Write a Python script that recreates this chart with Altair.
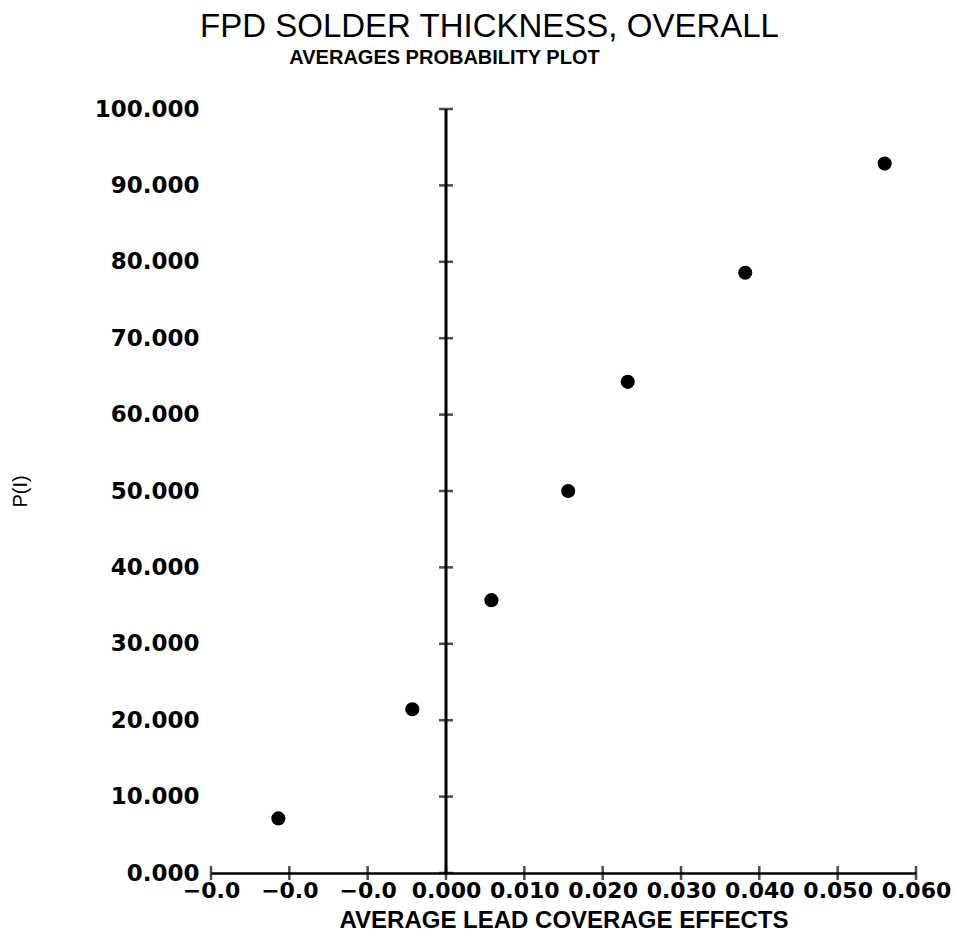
import altair as alt
import pandas as pd

# ---- data ----
effects = [-0.0214, -0.0043, 0.0058, 0.0156, 0.0232, 0.0382, 0.0560]
p_i = [7.143, 21.429, 35.714, 50.0, 64.286, 78.571, 92.857]
x_ticks = [-0.03, -0.02, -0.01, 0.0, 0.01, 0.02, 0.03, 0.04, 0.05, 0.06]
y_ticks = [0, 10, 20, 30, 40, 50, 60, 70, 80, 90, 100]

pts = pd.DataFrame({"effect": effects, "p": p_i})
xt = pd.DataFrame({"x": x_ticks, "y": [0] * len(x_ticks)})
yt = pd.DataFrame({"x": [0.0] * len(y_ticks), "y": y_ticks})
vline = pd.DataFrame({"x": [0.0], "y": [y_ticks[0]], "y2": [y_ticks[-1]]})

xscale = alt.Scale(domain=[x_ticks[0], x_ticks[-1]], nice=False, zero=False)
yscale = alt.Scale(domain=[y_ticks[0], y_ticks[-1]], nice=False)

x_axis = alt.Axis(
    values=x_ticks,
    labelExpr="datum.value < -0.000001 ? '\u22120.0' : format(datum.value, '.3f')",
    title="AVERAGE LEAD COVERAGE EFFECTS",
    domain=True, domainColor="black", domainWidth=2.5,
    ticks=False, grid=False,
    labelFont="DejaVu Sans", labelFontWeight="bold", labelFontSize=22,
    labelColor="black", labelPadding=7,
    labelOverlap=False, labelFlush=False, labelBound=False,
    titleFont="Liberation Sans", titleFontWeight="bold", titleFontSize=24,
    titleColor="black", titlePadding=7,
)
y_axis = alt.Axis(
    values=y_ticks, format=".3f",
    title="P(I)",
    domain=False, ticks=False, grid=False,
    labelFont="DejaVu Sans", labelFontWeight="bold", labelFontSize=23,
    labelColor="black", labelPadding=12,
    titleFont="Liberation Sans", titleFontWeight="normal", titleFontSize=20,
    titleColor="black", titlePadding=64,
)

points = alt.Chart(pts).mark_point(filled=True, color="black", size=200, opacity=1).encode(
    x=alt.X("effect:Q", scale=xscale, axis=x_axis),
    y=alt.Y("p:Q", scale=yscale, axis=y_axis),
)

yline = alt.Chart(vline).mark_rule(color="black", strokeWidth=3).encode(
    x=alt.X("x:Q", scale=xscale), y=alt.Y("y:Q", scale=yscale), y2="y2:Q"
)

xtick_marks = alt.Chart(xt).mark_tick(color="black", orient="vertical", size=14, thickness=2.5).encode(
    x=alt.X("x:Q", scale=xscale), y=alt.Y("y:Q", scale=yscale)
)
ytick_marks = alt.Chart(yt).mark_tick(color="black", orient="horizontal", size=14, thickness=2.5).encode(
    x=alt.X("x:Q", scale=xscale), y=alt.Y("y:Q", scale=yscale)
)

chart = alt.layer(yline, xtick_marks, ytick_marks, points).properties(
    width=705,
    height=764,
    autosize=alt.AutoSizeParams(type="none"),
    padding={"left": 203, "top": 101, "right": 35, "bottom": 64},
    background="white",
    title=alt.TitleParams(
        text="FPD SOLDER THICKNESS, OVERALL",
        subtitle="AVERAGES PROBABILITY PLOT" + "\u2800" * 6,
        font="Liberation Sans", fontSize=33, fontWeight="normal", color="black",
        subtitleFont="Liberation Sans", subtitleFontSize=20, subtitleFontWeight="bold",
        subtitleColor="black", subtitlePadding=4,
        anchor="middle", frame="group", dx=-74, offset=30,
    ),
).configure_view(stroke=None)

chart.save("out.html", embed_options={"renderer": "svg", "actions": False})
